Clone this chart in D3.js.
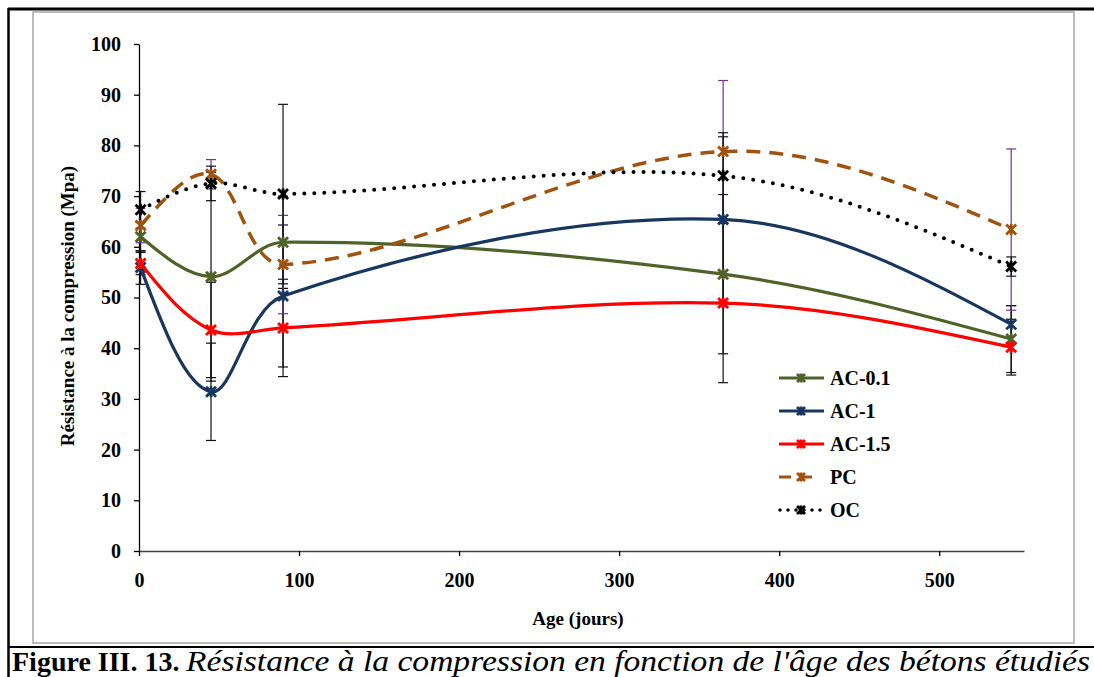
<!DOCTYPE html>
<html><head><meta charset="utf-8">
<script src="https://cdn.jsdelivr.net/npm/d3@7"></script>
<style>body{margin:0;background:#fff}svg{display:block}svg text{font-family:"Liberation Serif","Times New Roman",Times,serif}</style>
</head><body>
<svg id="c" width="1094" height="677"></svg>
<script>
const ages = [1, 45, 90, 365, 545];
const seriesNames = ["AC-0.1", "AC-1", "AC-1.5", "PC", "OC"];
const ac01 = [62.0, 54.1, 60.9, 54.6, 41.8];
const ac1  = [55.9, 31.4, 50.3, 65.4, 44.7];
const ac15 = [56.7, 43.6, 44.0, 48.9, 40.2];
const pc   = [64.2, 74.3, 56.5, 78.8, 63.4];
const oc   = [67.3, 72.5, 70.4, 74.0, 56.1];
const ac01Err = [2.8, 20.6, 9.1, 15.7, 6.6];
const ac1Err  = [3.3, 9.6, 14.0, 16.3, 3.7];
const ac15Err = [2.2, 9.4, 9.6, 15.7, 5.5];
const pcErr   = [3.4, 2.9, 9.7, 14.0, 15.9];
const ocErr   = [3.6, 3.4, 17.7, 8.5, 1.9];
const xTicks = [0, 100, 200, 300, 400, 500];
const yTicks = [0, 10, 20, 30, 40, 50, 60, 70, 80, 90, 100];

const styles = {
  "AC-0.1": {color: "#4F6228", dash: null, err: "#111"},
  "AC-1":   {color: "#17375E", dash: null, err: "#111"},
  "AC-1.5": {color: "#FF0000", dash: null, err: "#111"},
  "PC":     {color: "#A0520F", dash: "14,9", err: "#7030A0"},
  "OC":     {color: "#000000", dash: "0,10", err: "#111"}
};
const values = {"AC-0.1": ac01, "AC-1": ac1, "AC-1.5": ac15, "PC": pc, "OC": oc};
const errs = {"AC-0.1": ac01Err, "AC-1": ac1Err, "AC-1.5": ac15Err, "PC": pcErr, "OC": ocErr};

const svg = d3.select("#c");
const font = '"Liberation Serif","Times New Roman",Times,serif';

// frames
svg.append("rect").attr("x",33).attr("y",12).attr("width",1041).attr("height",631)
  .attr("fill","none").attr("stroke","#a6a6a6").attr("stroke-width",1.5);
svg.append("line").attr("x1",8).attr("x2",1094).attr("y1",9).attr("y2",9).attr("stroke","#000").attr("stroke-width",3);
svg.append("line").attr("x1",8.5).attr("x2",8.5).attr("y1",8).attr("y2",677).attr("stroke","#000").attr("stroke-width",2.5);
svg.append("line").attr("x1",8).attr("x2",1094).attr("y1",647).attr("y2",647).attr("stroke","#000").attr("stroke-width",2);

const x = d3.scaleLinear().domain([0, 553]).range([139, 1024]);
const y = d3.scaleLinear().domain([0, 100]).range([551, 44]);

// axes
const xAxis = svg.append("g").attr("transform","translate(0,551)")
  .call(d3.axisBottom(x).tickValues(xTicks).tickSize(5).tickPadding(17).tickSizeOuter(0));
const yAxis = svg.append("g").attr("transform","translate(139,0)")
  .call(d3.axisLeft(y).tickValues(yTicks).tickSize(5).tickPadding(13).tickSizeOuter(0));
[xAxis, yAxis].forEach(a => {
  a.attr("font-family", null).attr("font-size", null);
  a.selectAll("path").attr("stroke","#000").attr("stroke-width",1.3);
  a.selectAll("line").attr("stroke","#000").attr("stroke-width",1.3);
  a.selectAll("text").style("font-family",font).attr("font-weight","bold").attr("font-size",20).attr("fill","#000");
});
xAxis.select(".domain").attr("stroke","#404040");

svg.append("text").attr("x",578).attr("y",625).attr("text-anchor","middle")
  .style("font-family",font).attr("font-weight","bold").attr("font-size",19).text("Age (jours)");
svg.append("text").attr("transform","translate(74,306) rotate(-90)").attr("text-anchor","middle")
  .style("font-family",font).attr("font-weight","bold").attr("font-size",19).text("Résistance à la compression (Mpa)");

// error bars
const eg = svg.append("g");
seriesNames.forEach(n => {
  const st = styles[n];
  ages.forEach((a, i) => {
    const v = values[n][i], e = errs[n][i];
    const cx = x(a);
    eg.append("line").attr("x1",cx).attr("x2",cx).attr("y1",y(v+e)).attr("y2",y(v-e))
      .attr("stroke",st.err).attr("stroke-width",1.2);
    [v+e, v-e].forEach(t => eg.append("line").attr("x1",cx-5).attr("x2",cx+5).attr("y1",y(t)).attr("y2",y(t))
      .attr("stroke",st.err).attr("stroke-width",1.2));
  });
});

// Excel-like smoothed line through screen points
function smoothPath(p) {
  const t = 1/3;
  const path = d3.path();
  const n = p.length;
  const dist = (a,b) => Math.hypot(b[0]-a[0], b[1]-a[1]);
  const cin = [], cout = [];
  for (let i = 0; i < n; i++) {
    if (i === 0 || i === n-1) { cin.push(p[i]); cout.push(p[i]); continue; }
    const T = [p[i+1][0]-p[i-1][0], p[i+1][1]-p[i-1][1]];
    const d1 = dist(p[i-1],p[i]), d2 = dist(p[i],p[i+1]), s = d1 + d2;
    cin.push([p[i][0]-T[0]*t*d1/s, p[i][1]-T[1]*t*d1/s]);
    cout.push([p[i][0]+T[0]*t*d2/s, p[i][1]+T[1]*t*d2/s]);
  }
  cout[0] = [p[0][0]+(cin[1][0]-p[0][0])*0.5, p[0][1]+(cin[1][1]-p[0][1])*0.5];
  cin[n-1] = [p[n-1][0]+(cout[n-2][0]-p[n-1][0])*0.5, p[n-1][1]+(cout[n-2][1]-p[n-1][1])*0.5];
  path.moveTo(p[0][0], p[0][1]);
  for (let i = 0; i < n-1; i++) {
    path.bezierCurveTo(cout[i][0], cout[i][1], cin[i+1][0], cin[i+1][1], p[i+1][0], p[i+1][1]);
  }
  return path.toString();
}
function marker(g, cx, cy, col, s) {
  g.append("path").attr("d",`M${cx-s},${cy-s}L${cx+s},${cy+s}M${cx-s},${cy+s}L${cx+s},${cy-s}M${cx},${cy-s*1.1}L${cx},${cy+s*1.1}`)
    .attr("stroke",col).attr("stroke-width",2.8).attr("fill","none");
}
const lg = svg.append("g");
seriesNames.forEach(n => {
  const st = styles[n];
  const pts = ages.map((a,i) => [x(a), y(values[n][i])]);
  const p = lg.append("path").attr("d", smoothPath(pts)).attr("fill","none").attr("stroke",st.color)
    .attr("stroke-width", n === "OC" ? 4 : (n === "PC" ? 3.5 : 3.2));
  if (st.dash) p.attr("stroke-dasharray", st.dash);
  if (n === "OC") p.attr("stroke-linecap","round");
  pts.forEach(d => marker(lg, d[0], d[1], st.color, 5));
});

// legend
const leg = svg.append("g");
seriesNames.forEach((n, i) => {
  const st = styles[n];
  const ly = 378 + i * 33;
  const l = leg.append("line").attr("x1",779).attr("x2", n === "OC" || n === "PC" ? 821 : 824).attr("y1",ly).attr("y2",ly)
    .attr("stroke",st.color).attr("stroke-width", n === "OC" ? 3.5 : 3);
  if (n === "PC") l.attr("stroke-dasharray","12,9").attr("x1",779);
  if (n === "OC") l.attr("stroke-dasharray","0,8").attr("stroke-linecap","round").attr("x1",780);
  marker(leg, 801, ly, st.color, 4);
  leg.append("text").attr("x",830).attr("y",ly+7).style("font-family",font).attr("font-weight","bold")
    .attr("font-size",20).text(n);
});

// caption
svg.append("text").attr("x",12).attr("y",671).style("font-family",font).attr("font-size",28)
  .attr("font-weight","bold").attr("fill","#000").text("Figure III. 13.");
svg.append("text").attr("x",186).attr("y",671).style("font-family",font).attr("font-size",29)
  .attr("font-style","italic").attr("fill","#000")
  .attr("textLength",904).attr("lengthAdjust","spacingAndGlyphs")
  .text("Résistance à la compression en fonction de l'âge des bétons étudiés");
</script>
</body></html>
